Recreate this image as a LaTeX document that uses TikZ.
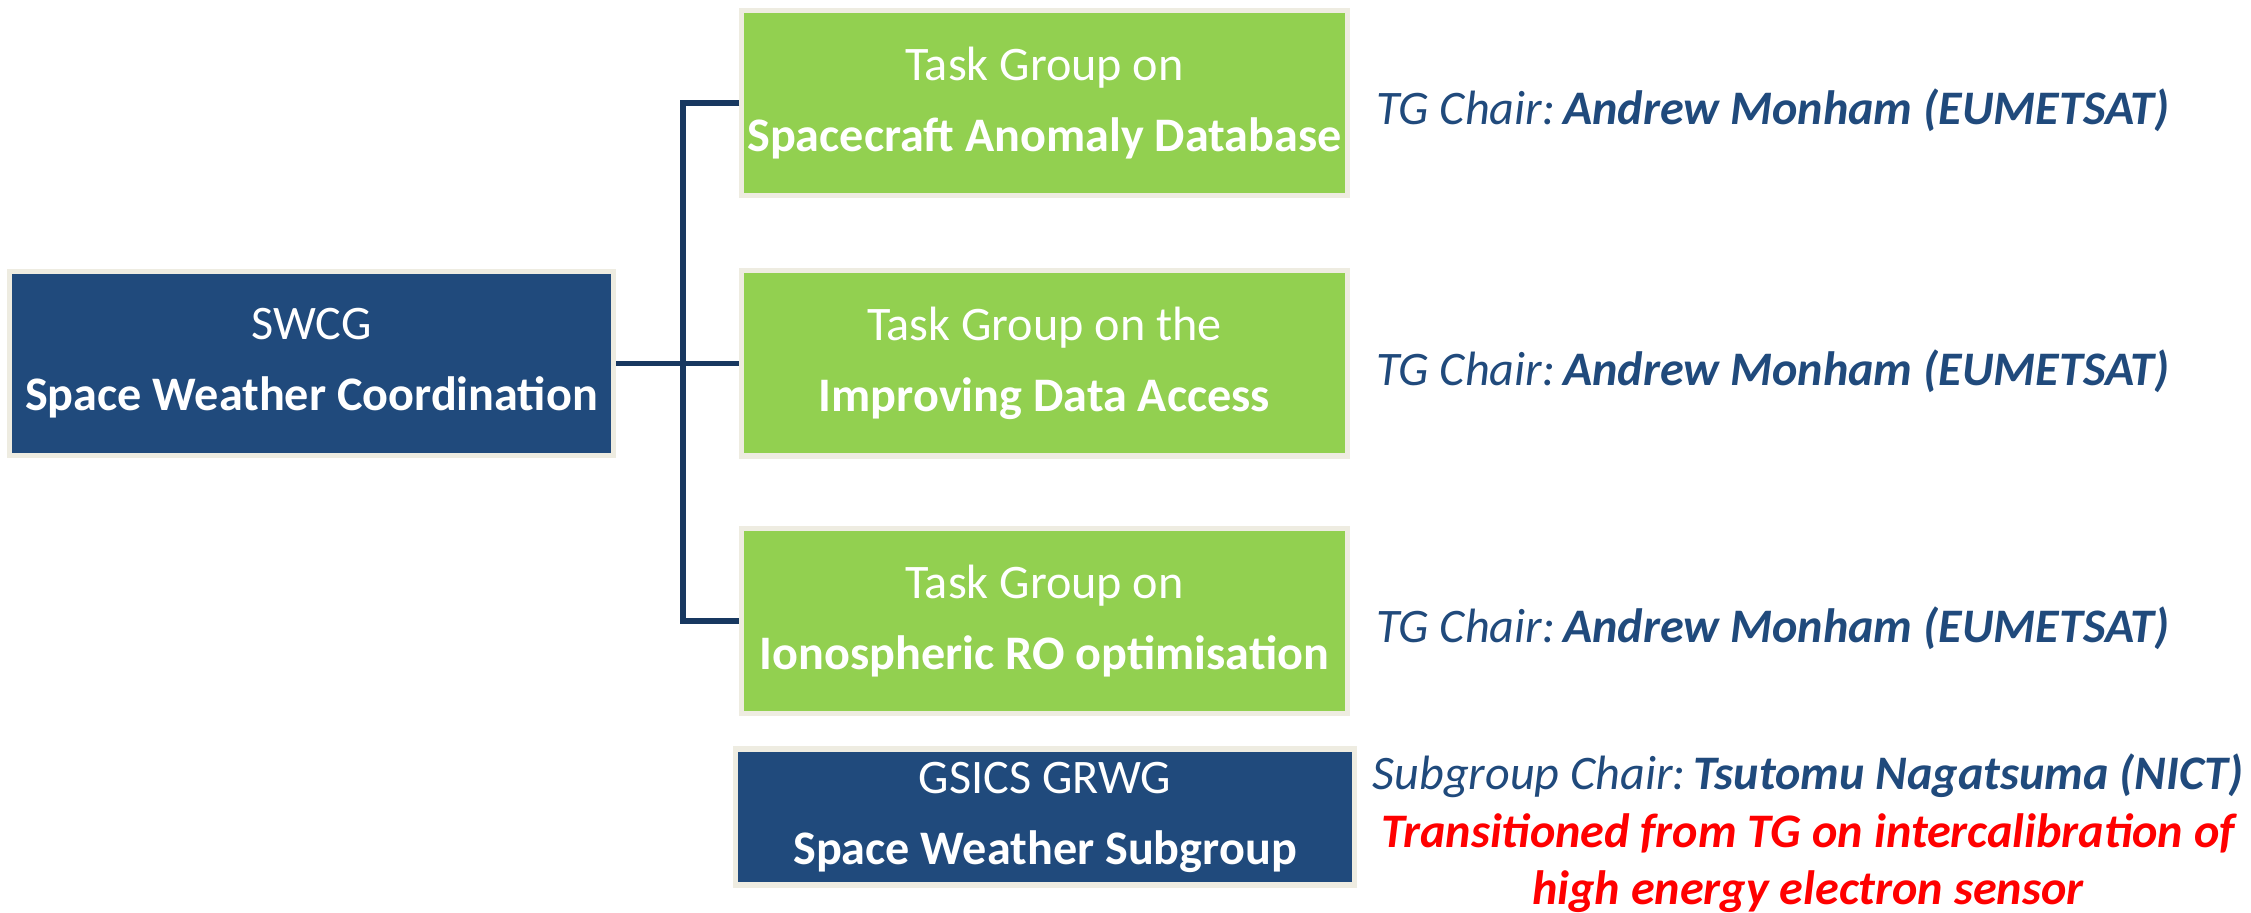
\documentclass[tikz,border=0pt]{standalone}
\usepackage{fontspec}
\setmainfont{Carlito}
\usetikzlibrary{positioning}
\definecolor{swblue}{RGB}{32,74,124}
\definecolor{tggreen}{RGB}{146,208,80}
\definecolor{framebeige}{RGB}{238,236,225}
\definecolor{linkblue}{RGB}{24,56,96}
\begin{document}
\begin{tikzpicture}[x=0.01cm,y=-0.01cm,
  box/.style={rectangle,draw=framebeige,line width=1.45pt,text=white,align=center,
    inner sep=0pt,font=\fontsize{13.7}{20.2}\selectfont},
  bluebox/.style={box,fill=swblue},
  greenbox/.style={box,fill=tggreen,minimum width=6.05cm,minimum height=1.85cm},
  chair/.style={anchor=base west,text=swblue,font=\fontsize{13.7}{16}\selectfont\itshape},
  conn/.style={draw=linkblue,line width=1.5pt}]
  \useasboundingbox (0,0) rectangle (2251,913);
  % nodes
  \node (swcg) at (311.5,363.5) [bluebox,minimum width=6.045cm,minimum height=1.84cm]
    {SWCG\\\textbf{Space Weather Coordination}};
  \node (tg1) at (1044.5,103) [greenbox]
    {Task Group on\\\textbf{Spacecraft Anomaly Database}};
  \node (tg2) at (1044.5,363.5) [greenbox]
    {Task Group on the\\\textbf{Improving Data Access}};
  \node (tg3) at (1044.5,621) [greenbox]
    {Task Group on\\\textbf{Ionospheric RO optimisation}};
  \node (grwg) at (1045,817) [bluebox,minimum width=6.19cm,minimum height=1.36cm]
    {GSICS GRWG\\\textbf{Space Weather Subgroup}};
  % chairs
  \node (chair1) at (1364,125) [chair] {TG Chair:\,\textbf{Andrew Monham (EUMETSAT)}};
  \node (chair2) at (1364,385.5) [chair] {TG Chair:\,\textbf{Andrew Monham (EUMETSAT)}};
  \node (chair3) at (1364,643) [chair] {TG Chair:\,\textbf{Andrew Monham (EUMETSAT)}};
  \node (subchair) at (1808,905) [anchor=base,align=center,text=swblue,
    font=\fontsize{13.7}{16.4}\selectfont\itshape]
    {Subgroup Chair:\,\textbf{Tsutomu Nagatsuma (NICT)}\\
     \color{red}\bfseries Transitioned from TG on intercalibration of\\
     \color{red}\bfseries high energy electron sensor};
  % links
  \coordinate (bus) at (683,363.5);
  \draw[conn] (swcg) -- (tg2);
  \draw[conn] (tg1.west) -| (bus) |- (tg3.west);
\end{tikzpicture}
\end{document}
